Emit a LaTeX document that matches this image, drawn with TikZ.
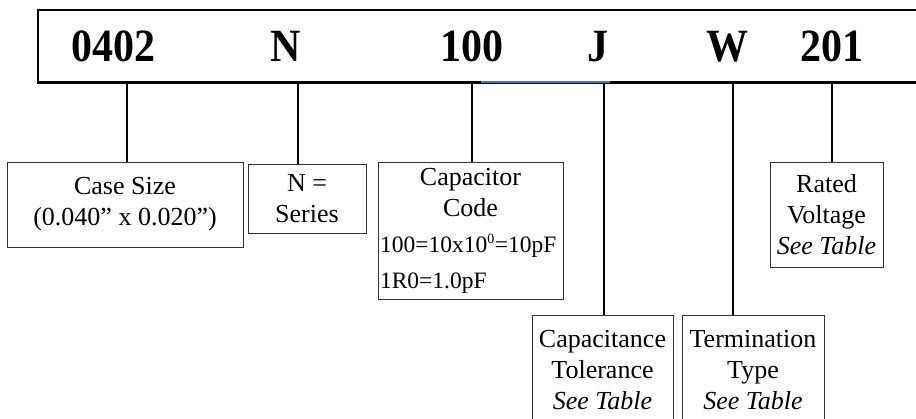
\documentclass[tikz,border=0pt]{standalone}
\usepackage{fontspec}
\setmainfont{Liberation Serif}
\usetikzlibrary{positioning}

\newcommand{\partcode}[1]{\scalebox{1}[1.1]{#1}}

\begin{document}
\begin{tikzpicture}[
    x=1pt, y=-1pt,
    codebar/.style={draw, line width=2.6pt, anchor=north west, inner sep=0pt},
    code/.style={anchor=base, inner sep=0pt, font=\fontsize{42}{42}\selectfont\bfseries},
    field/.style={draw=black!80, line width=0.9pt, align=center, inner sep=1pt,
        font=\fontsize{26}{31}\selectfont},
    stem/.style={line width=2.4pt},
    hiline/.style={line width=1.3pt, draw={rgb,255:red,68;green,114;blue,196}}
]
    \useasboundingbox (0,0) rectangle (916,418);
    \clip (0,0) rectangle (916,418);

    % --- part number bar ---
    \node[codebar, minimum width=900pt, minimum height=72.5pt] (part) at (36.7,8.5) {};

    \node[code] (c0402) at (113.5,61) {\partcode{0402}};
    \node[code] (cN)    at (286,61)   {\partcode{N}};
    \node[code] (c100)  at (472,61)   {\partcode{100}};
    \node[code] (cJ)    at (598,61)   {\partcode{J}};
    \node[code] (cW)    at (727,61)   {\partcode{W}};
    \node[code] (c201)  at (832,61)   {\partcode{201}};

    % --- field boxes ---
    \node[field, minimum width=236pt, minimum height=85pt] (casesize) at (125,204.5)
        {Case Size\\(0.040'' x 0.020'')};
    \node[field, minimum width=118pt, minimum height=69pt] (series) at (307,198.5)
        {N =\\Series};
    \node[field, minimum width=185pt, minimum height=137pt, text width=181pt] (capcode) at (470.5,230.5)
        {Capacitor\\Code\\[5pt]
         {\fontsize{23.5}{28}\selectfont\makebox[181pt][l]{100=10x10\textsuperscript{\fontsize{14}{14}\selectfont 0}=10pF}}\\[5pt]
         {\fontsize{23.5}{28}\selectfont\makebox[181pt][l]{1R0=1.0pF}}};
    \node[field, minimum width=141pt, minimum height=110pt] (captol) at (602.5,370)
        {Capacitance\\Tolerance\\\textit{See Table}};
    \node[field, minimum width=142pt, minimum height=110pt] (termtype) at (753,370)
        {Termination\\Type\\\textit{See Table}};
    \node[field, minimum width=113pt, minimum height=105pt] (rated) at (826.5,214.5)
        {Rated\\Voltage\\\textit{See Table}};

    % --- stems from the bar down to the fields ---
    \coordinate (st0402) at (127,0 |- part.south);
    \coordinate (stN)    at (298,0 |- part.south);
    \coordinate (st100)  at (472,0 |- part.south);
    \coordinate (stJ)    at (604,0 |- part.south);
    \coordinate (stW)    at (733,0 |- part.south);
    \coordinate (st201)  at (832,0 |- part.south);

    \draw[stem] (st0402) -- (st0402 |- casesize.north);
    \draw[stem] (stN) -- (stN |- series.north);
    \draw[stem] (st100) -- (st100 |- capcode.north);
    \draw[stem] (stJ) -- (stJ |- captol.north);
    \draw[stem] (stW) -- (stW |- termtype.north);
    \draw[stem] (st201) -- (st201 |- rated.north);

    % blue underline between 100 and J
    \coordinate (hl1) at (481,82);
    \coordinate (hl2) at (610,82);
    \draw[hiline] (hl1) -- (hl2);
\end{tikzpicture}
\end{document}
